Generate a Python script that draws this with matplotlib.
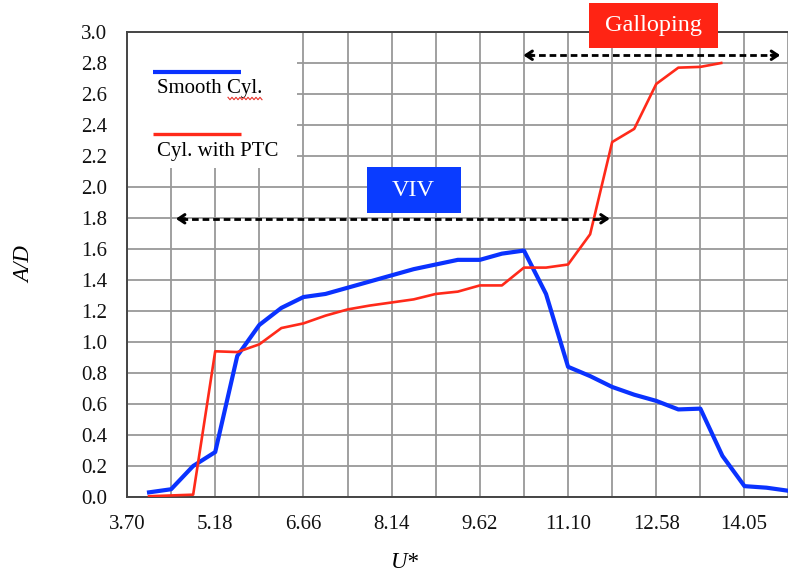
import numpy as np
import matplotlib
matplotlib.use('Agg')
import matplotlib.pyplot as plt
from matplotlib.patches import Rectangle

# reduced velocity U* and amplitude ratio A/D
u_smooth = [4.07, 4.44, 4.81, 5.18, 5.55, 5.92, 6.29, 6.66, 7.03, 7.40,
            7.77, 8.14, 8.51, 8.88, 9.25, 9.62, 9.99, 10.36, 10.73, 11.10,
            11.47, 11.84, 12.21, 12.58, 12.95, 13.32, 13.69, 14.06, 14.43, 14.80]
ad_smooth = [0.03, 0.05, 0.20, 0.29, 0.91, 1.11, 1.22, 1.29, 1.31, 1.35,
             1.39, 1.43, 1.47, 1.50, 1.53, 1.53, 1.57, 1.59, 1.31, 0.84,
             0.78, 0.71, 0.66, 0.62, 0.565, 0.57, 0.265, 0.07, 0.06, 0.04]

u_ptc = [4.07, 4.44, 4.81, 5.18, 5.55, 5.92, 6.29, 6.66, 7.03, 7.40,
         7.77, 8.14, 8.51, 8.88, 9.25, 9.62, 9.99, 10.36, 10.73, 11.10,
         11.47, 11.84, 12.21, 12.58, 12.95, 13.32, 13.67]
ad_ptc = [0.005, 0.01, 0.015, 0.94, 0.935, 0.985, 1.09, 1.12, 1.17, 1.21,
          1.235, 1.255, 1.275, 1.31, 1.325, 1.365, 1.365, 1.48, 1.48, 1.50,
          1.695, 2.29, 2.375, 2.665, 2.77, 2.775, 2.80]

series_labels = ['Smooth Cyl.', 'Cyl. with PTC']
series_colors = ['#0a32ff', '#ff2a1a']

x_ticks = [3.70, 5.18, 6.66, 8.14, 9.62, 11.10, 12.58, 14.05]
x_tick_labels = ['3.70', '5.18', '6.66', '8.14', '9.62', '11.10', '12.58', '14.05']
y_ticks = [0.0, 0.2, 0.4, 0.6, 0.8, 1.0, 1.2, 1.4, 1.6, 1.8, 2.0, 2.2, 2.4, 2.6, 2.8, 3.0]

# regime annotations: (label, box colour, x range of arrow, arrow level)
viv = ('VIV', '#0a3cff', (4.52, 11.80), 1.795)
galloping = ('Galloping', '#ff2414', (10.35, 14.66), 2.85)
viv_box = (7.72, 1.833, 1.58, 0.295)        # x, y, width, height (data)
gal_box = (11.45, 2.895, 2.16, 0.29)

plt.rcParams['font.family'] = ['Liberation Serif', 'DejaVu Serif']

fig = plt.figure(figsize=(7.88, 5.79), dpi=100)
ax = fig.add_axes([127 / 788, 82 / 579, 661 / 788, 465 / 579])

ax.set_xlim(3.70, 14.69)
ax.set_ylim(0.0, 3.0)
ax.set_xticks(x_ticks)
ax.set_xticklabels(x_tick_labels)
ax.set_xticks([t + 0.74 for t in x_ticks], minor=True)
ax.set_yticks(y_ticks)
ax.set_yticklabels(['%.1f' % v for v in y_ticks])
ax.tick_params(which='both', length=0, labelsize=15, colors='#111111')
ax.tick_params(axis='x', pad=13)
ax.tick_params(axis='y', pad=14)
ax.grid(True, which='both', color='#999999', linewidth=1.3, zorder=0)
ax.set_axisbelow(True)
for side in ['left', 'bottom', 'top']:
    ax.spines[side].set_color('#444444')
    ax.spines[side].set_linewidth(1.4)
ax.spines['right'].set_visible(False)

ax.plot(u_smooth, ad_smooth, color=series_colors[0], lw=3.0, zorder=4,
        solid_joinstyle='round')
ax.plot(u_ptc, ad_ptc, color=series_colors[1], lw=1.9, zorder=5,
        solid_joinstyle='round')

ax.set_xlabel('U*', fontsize=16.5, style='italic', va='center')
ax.xaxis.set_label_coords(0.42, -0.14)
ax.set_ylabel('A/D', fontsize=16.5, style='italic', va='center')
ax.yaxis.set_label_coords(-0.154, 0.50)

# legend drawn by hand: line above its label, on a white patch
ax.add_patch(Rectangle((0, 0.707), 0.257, 0.293, transform=ax.transAxes,
                       facecolor='white', edgecolor='none', zorder=2))
for i, (lab, col) in enumerate(zip(series_labels, series_colors)):
    ly = 0.915 - i * 0.135
    ax.plot([0.039, 0.172], [ly, ly], transform=ax.transAxes, color=col,
            lw=3.0 if i == 0 else 2.4, zorder=3, solid_capstyle='butt')
    ax.text(0.045, ly - 0.037, lab, transform=ax.transAxes, fontsize=15,
            va='center', ha='left', zorder=3)

# spell-check squiggle under "Cyl."
sx = np.linspace(228, 262, 18)
sy = 579 - 98.5 + np.where(np.arange(18) % 2 == 0, 1.2, -1.2)
fig.add_artist(plt.Line2D(sx / 788, sy / 579, color='#e8322a', lw=0.8))

# regime arrows and labels
for (lab, col, (x0, x1), yv), box in [(viv, viv_box), (galloping, gal_box)]:
    ax.plot([x0 + 0.08, x1 - 0.08], [yv, yv], color='black', lw=2.0,
            dashes=(2.4, 1.4), zorder=6, clip_on=False)
    for a, b in [(x0 + 0.15, x0), (x1 - 0.15, x1)]:
        ax.annotate('', xy=(b, yv), xytext=(a, yv),
                    arrowprops=dict(arrowstyle='->,head_length=0.45,head_width=0.3',
                                    color='black', lw=2.2, shrinkA=0, shrinkB=0),
                    annotation_clip=False, zorder=6)
    bx, by, bw, bh = box
    ax.add_patch(Rectangle((bx, by), bw, bh, facecolor=col, edgecolor='none',
                           zorder=7, clip_on=False))
    ax.text(bx + bw / 2, by + bh / 2, lab, color='white', fontsize=17.5,
            ha='center', va='center', zorder=8, clip_on=False)

fig.savefig('out.png', dpi=100)
